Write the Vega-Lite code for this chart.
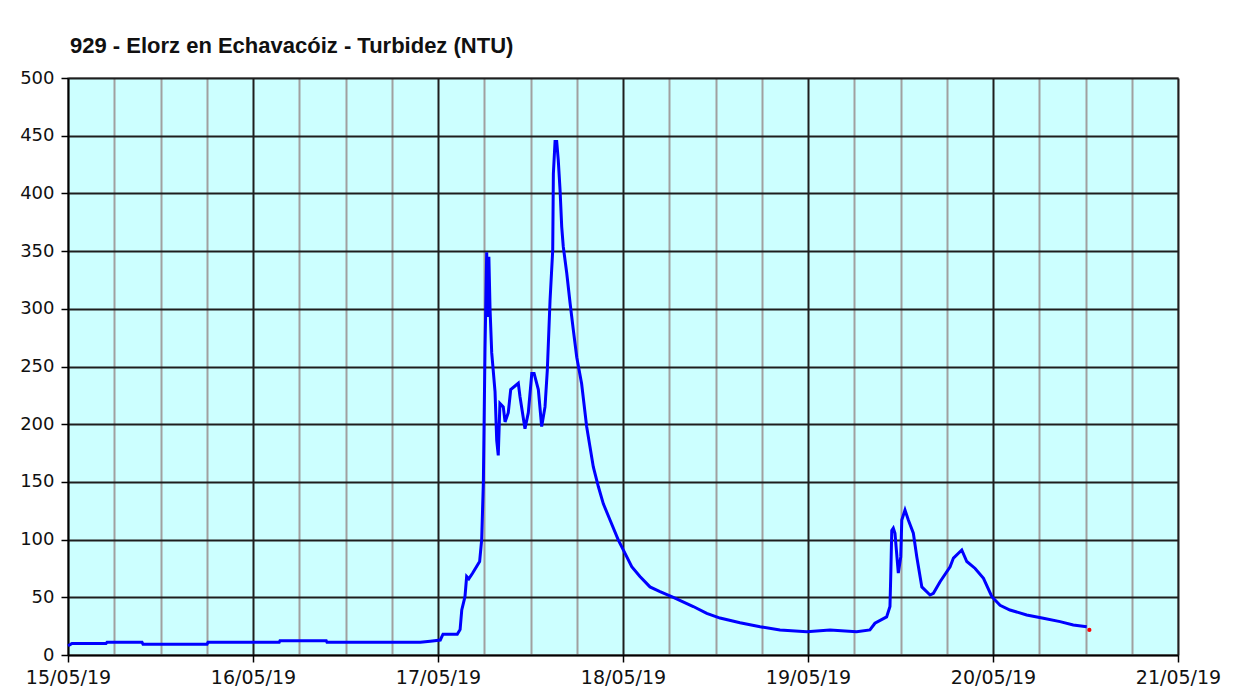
{
  "$schema": "https://vega.github.io/schema/vega-lite/v6.json",
  "width": 1110,
  "height": 577,
  "autosize": {"type": "none"},
  "padding": {"left": 68, "top": 78, "right": 73, "bottom": 43},
  "background": "#ffffff",
  "title": {
    "text": "929 - Elorz en Echavacóiz - Turbidez (NTU)",
    "anchor": "start",
    "frame": "group",
    "font": "Liberation Sans",
    "fontSize": 22,
    "fontWeight": "bold",
    "color": "#111111",
    "offset": 11,
    "dx": 2
  },
  "config": {
    "view": {"fill": "#CCFFFF", "stroke": "#999999", "strokeWidth": 1.5},
    "axis": {
      "labelFont": "DejaVu Sans",
      "labelFontSize": 18,
      "labelColor": "#111111",
      "domainColor": "#000000",
      "domainWidth": 1.5,
      "tickColor": "#000000",
      "tickWidth": 1.5
    }
  },
  "datasets": {
    "serie": [
      {"fecha": "2019-05-15T00:00:00Z", "ntu": 8},
      {"fecha": "2019-05-15T00:16:00Z", "ntu": 9},
      {"fecha": "2019-05-15T00:31:00Z", "ntu": 10},
      {"fecha": "2019-05-15T04:56:00Z", "ntu": 10},
      {"fecha": "2019-05-15T05:04:00Z", "ntu": 11},
      {"fecha": "2019-05-15T09:36:00Z", "ntu": 11},
      {"fecha": "2019-05-15T09:44:00Z", "ntu": 9.3},
      {"fecha": "2019-05-15T18:02:00Z", "ntu": 9.3},
      {"fecha": "2019-05-15T18:10:00Z", "ntu": 11},
      {"fecha": "2019-05-16T03:24:00Z", "ntu": 11},
      {"fecha": "2019-05-16T03:30:00Z", "ntu": 12.4},
      {"fecha": "2019-05-16T09:30:00Z", "ntu": 12.4},
      {"fecha": "2019-05-16T09:36:00Z", "ntu": 11},
      {"fecha": "2019-05-16T21:42:00Z", "ntu": 11},
      {"fecha": "2019-05-16T23:00:00Z", "ntu": 12},
      {"fecha": "2019-05-17T00:18:00Z", "ntu": 13},
      {"fecha": "2019-05-17T00:39:00Z", "ntu": 18},
      {"fecha": "2019-05-17T02:30:00Z", "ntu": 18},
      {"fecha": "2019-05-17T02:52:00Z", "ntu": 22},
      {"fecha": "2019-05-17T03:05:00Z", "ntu": 39},
      {"fecha": "2019-05-17T03:30:00Z", "ntu": 50.5},
      {"fecha": "2019-05-17T03:43:00Z", "ntu": 68},
      {"fecha": "2019-05-17T04:00:00Z", "ntu": 66},
      {"fecha": "2019-05-17T04:30:00Z", "ntu": 71},
      {"fecha": "2019-05-17T05:24:00Z", "ntu": 81},
      {"fecha": "2019-05-17T05:40:00Z", "ntu": 100},
      {"fecha": "2019-05-17T05:53:00Z", "ntu": 149},
      {"fecha": "2019-05-17T06:06:00Z", "ntu": 266},
      {"fecha": "2019-05-17T06:19:00Z", "ntu": 349},
      {"fecha": "2019-05-17T06:30:00Z", "ntu": 293},
      {"fecha": "2019-05-17T06:36:00Z", "ntu": 345},
      {"fecha": "2019-05-17T06:45:00Z", "ntu": 300},
      {"fecha": "2019-05-17T06:58:00Z", "ntu": 262},
      {"fecha": "2019-05-17T07:24:00Z", "ntu": 228},
      {"fecha": "2019-05-17T07:37:00Z", "ntu": 186},
      {"fecha": "2019-05-17T07:49:00Z", "ntu": 173},
      {"fecha": "2019-05-17T08:02:00Z", "ntu": 218},
      {"fecha": "2019-05-17T08:28:00Z", "ntu": 215},
      {"fecha": "2019-05-17T08:42:00Z", "ntu": 202},
      {"fecha": "2019-05-17T09:07:00Z", "ntu": 210},
      {"fecha": "2019-05-17T09:26:00Z", "ntu": 230},
      {"fecha": "2019-05-17T10:25:00Z", "ntu": 235.5},
      {"fecha": "2019-05-17T10:38:00Z", "ntu": 224},
      {"fecha": "2019-05-17T11:17:00Z", "ntu": 196},
      {"fecha": "2019-05-17T11:43:00Z", "ntu": 210},
      {"fecha": "2019-05-17T12:10:00Z", "ntu": 244},
      {"fecha": "2019-05-17T12:28:00Z", "ntu": 244},
      {"fecha": "2019-05-17T13:01:00Z", "ntu": 230},
      {"fecha": "2019-05-17T13:27:00Z", "ntu": 198},
      {"fecha": "2019-05-17T13:53:00Z", "ntu": 215},
      {"fecha": "2019-05-17T14:11:00Z", "ntu": 247},
      {"fecha": "2019-05-17T14:32:00Z", "ntu": 307},
      {"fecha": "2019-05-17T14:53:00Z", "ntu": 351},
      {"fecha": "2019-05-17T14:58:00Z", "ntu": 417},
      {"fecha": "2019-05-17T15:11:00Z", "ntu": 445},
      {"fecha": "2019-05-17T15:24:00Z", "ntu": 445},
      {"fecha": "2019-05-17T15:36:00Z", "ntu": 429},
      {"fecha": "2019-05-17T15:50:00Z", "ntu": 403},
      {"fecha": "2019-05-17T16:03:00Z", "ntu": 371},
      {"fecha": "2019-05-17T16:15:00Z", "ntu": 354},
      {"fecha": "2019-05-17T16:42:00Z", "ntu": 331},
      {"fecha": "2019-05-17T17:08:00Z", "ntu": 305},
      {"fecha": "2019-05-17T17:33:00Z", "ntu": 282},
      {"fecha": "2019-05-17T18:00:00Z", "ntu": 258},
      {"fecha": "2019-05-17T18:38:00Z", "ntu": 235},
      {"fecha": "2019-05-17T19:17:00Z", "ntu": 198},
      {"fecha": "2019-05-17T19:43:00Z", "ntu": 180.5},
      {"fecha": "2019-05-17T20:09:00Z", "ntu": 163},
      {"fecha": "2019-05-17T20:48:00Z", "ntu": 146},
      {"fecha": "2019-05-17T21:27:00Z", "ntu": 131},
      {"fecha": "2019-05-17T22:19:00Z", "ntu": 117},
      {"fecha": "2019-05-17T23:23:00Z", "ntu": 99.7},
      {"fecha": "2019-05-18T00:16:00Z", "ntu": 88},
      {"fecha": "2019-05-18T01:08:00Z", "ntu": 76.5},
      {"fecha": "2019-05-18T02:12:00Z", "ntu": 68},
      {"fecha": "2019-05-18T03:30:00Z", "ntu": 59},
      {"fecha": "2019-05-18T04:48:00Z", "ntu": 55},
      {"fecha": "2019-05-18T06:32:00Z", "ntu": 50},
      {"fecha": "2019-05-18T09:07:00Z", "ntu": 42},
      {"fecha": "2019-05-18T10:52:00Z", "ntu": 36},
      {"fecha": "2019-05-18T12:35:00Z", "ntu": 32},
      {"fecha": "2019-05-18T15:11:00Z", "ntu": 28},
      {"fecha": "2019-05-18T17:47:00Z", "ntu": 24.5},
      {"fecha": "2019-05-18T20:22:00Z", "ntu": 21.7},
      {"fecha": "2019-05-18T23:50:00Z", "ntu": 20.2},
      {"fecha": "2019-05-19T02:51:00Z", "ntu": 21.7},
      {"fecha": "2019-05-19T06:18:00Z", "ntu": 20.2},
      {"fecha": "2019-05-19T08:02:00Z", "ntu": 21.7},
      {"fecha": "2019-05-19T08:41:00Z", "ntu": 27.5},
      {"fecha": "2019-05-19T10:12:00Z", "ntu": 33},
      {"fecha": "2019-05-19T10:38:00Z", "ntu": 42},
      {"fecha": "2019-05-19T10:44:00Z", "ntu": 68},
      {"fecha": "2019-05-19T10:52:00Z", "ntu": 108},
      {"fecha": "2019-05-19T11:04:00Z", "ntu": 110},
      {"fecha": "2019-05-19T11:17:00Z", "ntu": 105.5},
      {"fecha": "2019-05-19T11:43:00Z", "ntu": 71},
      {"fecha": "2019-05-19T12:02:00Z", "ntu": 85},
      {"fecha": "2019-05-19T12:10:00Z", "ntu": 117},
      {"fecha": "2019-05-19T12:35:00Z", "ntu": 125.6},
      {"fecha": "2019-05-19T13:01:00Z", "ntu": 117},
      {"fecha": "2019-05-19T13:40:00Z", "ntu": 105.5},
      {"fecha": "2019-05-19T14:07:00Z", "ntu": 85},
      {"fecha": "2019-05-19T14:46:00Z", "ntu": 59},
      {"fecha": "2019-05-19T15:50:00Z", "ntu": 52},
      {"fecha": "2019-05-19T16:16:00Z", "ntu": 53.5},
      {"fecha": "2019-05-19T17:08:00Z", "ntu": 63.5},
      {"fecha": "2019-05-19T18:26:00Z", "ntu": 76.5},
      {"fecha": "2019-05-19T18:52:00Z", "ntu": 84},
      {"fecha": "2019-05-19T19:57:00Z", "ntu": 91},
      {"fecha": "2019-05-19T20:36:00Z", "ntu": 81},
      {"fecha": "2019-05-19T21:41:00Z", "ntu": 75},
      {"fecha": "2019-05-19T22:46:00Z", "ntu": 66.5},
      {"fecha": "2019-05-19T23:51:00Z", "ntu": 50.5},
      {"fecha": "2019-05-20T00:55:00Z", "ntu": 43},
      {"fecha": "2019-05-20T02:12:00Z", "ntu": 39},
      {"fecha": "2019-05-20T04:22:00Z", "ntu": 34.7},
      {"fecha": "2019-05-20T06:32:00Z", "ntu": 31.8},
      {"fecha": "2019-05-20T08:42:00Z", "ntu": 28.9},
      {"fecha": "2019-05-20T10:25:00Z", "ntu": 26},
      {"fecha": "2019-05-20T12:10:00Z", "ntu": 24.5}
    ],
    "ultimo": [
      {"fecha": "2019-05-20T12:30:00Z", "ntu": 21.7}
    ]
  },
  "resolve": {"axis": {"x": "independent"}},
  "layer": [
    {
      "data": {"name": "ultimo"},
      "mark": {"type": "point", "filled": true, "color": "#FF0000", "size": 18, "opacity": 0},
      "encoding": {
        "x": {
          "field": "fecha",
          "type": "temporal",
          "scale": {
            "domain": [
              {"year": 2019, "month": 5, "date": 15, "utc": true},
              {"year": 2019, "month": 5, "date": 21, "utc": true}
            ],
            "nice": false
          },
          "axis": {
            "orient": "bottom",
            "title": null,
            "values": [
              {"year": 2019, "month": 5, "date": 15, "hours": 6, "utc": true},
              {"year": 2019, "month": 5, "date": 15, "hours": 12, "utc": true},
              {"year": 2019, "month": 5, "date": 15, "hours": 18, "utc": true},
              {"year": 2019, "month": 5, "date": 16, "hours": 6, "utc": true},
              {"year": 2019, "month": 5, "date": 16, "hours": 12, "utc": true},
              {"year": 2019, "month": 5, "date": 16, "hours": 18, "utc": true},
              {"year": 2019, "month": 5, "date": 17, "hours": 6, "utc": true},
              {"year": 2019, "month": 5, "date": 17, "hours": 12, "utc": true},
              {"year": 2019, "month": 5, "date": 17, "hours": 18, "utc": true},
              {"year": 2019, "month": 5, "date": 18, "hours": 6, "utc": true},
              {"year": 2019, "month": 5, "date": 18, "hours": 12, "utc": true},
              {"year": 2019, "month": 5, "date": 18, "hours": 18, "utc": true},
              {"year": 2019, "month": 5, "date": 19, "hours": 6, "utc": true},
              {"year": 2019, "month": 5, "date": 19, "hours": 12, "utc": true},
              {"year": 2019, "month": 5, "date": 19, "hours": 18, "utc": true},
              {"year": 2019, "month": 5, "date": 20, "hours": 6, "utc": true},
              {"year": 2019, "month": 5, "date": 20, "hours": 12, "utc": true},
              {"year": 2019, "month": 5, "date": 20, "hours": 18, "utc": true}
            ],
            "labels": false,
            "ticks": false,
            "domain": false,
            "grid": true,
            "gridColor": "#a0a0a0",
            "gridWidth": 2
          }
        },
        "y": {"field": "ntu", "type": "quantitative"}
      }
    },
    {
      "data": {"name": "serie"},
      "mark": {"type": "line", "color": "#0000FF", "strokeWidth": 3},
      "encoding": {
        "x": {
          "field": "fecha",
          "type": "temporal",
          "axis": {
            "orient": "bottom",
            "title": null,
            "values": [
              {"year": 2019, "month": 5, "date": 15, "utc": true},
              {"year": 2019, "month": 5, "date": 16, "utc": true},
              {"year": 2019, "month": 5, "date": 17, "utc": true},
              {"year": 2019, "month": 5, "date": 18, "utc": true},
              {"year": 2019, "month": 5, "date": 19, "utc": true},
              {"year": 2019, "month": 5, "date": 20, "utc": true},
              {"year": 2019, "month": 5, "date": 21, "utc": true}
            ],
            "labelExpr": "utcFormat(datum.value, '%d/%m/%y')",
            "labelFontSize": 19,
            "labelOverlap": false,
            "labelFlush": false,
            "labelPadding": 6,
            "tickSize": 7,
            "grid": true,
            "gridColor": "#1e1e1e",
            "gridWidth": 2
          }
        },
        "y": {
          "field": "ntu",
          "type": "quantitative",
          "scale": {"domain": [0, 500], "nice": false},
          "axis": {
            "title": null,
            "values": [0, 50, 100, 150, 200, 250, 300, 350, 400, 450, 500],
            "tickSize": 7,
            "labelPadding": 7,
            "grid": true,
            "gridColor": "#1e1e1e",
            "gridWidth": 2
          }
        }
      }
    },
    {
      "data": {"name": "ultimo"},
      "mark": {"type": "point", "filled": true, "color": "#FF0000", "size": 18, "opacity": 1},
      "encoding": {
        "x": {"field": "fecha", "type": "temporal", "axis": null},
        "y": {"field": "ntu", "type": "quantitative"}
      }
    }
  ]
}
